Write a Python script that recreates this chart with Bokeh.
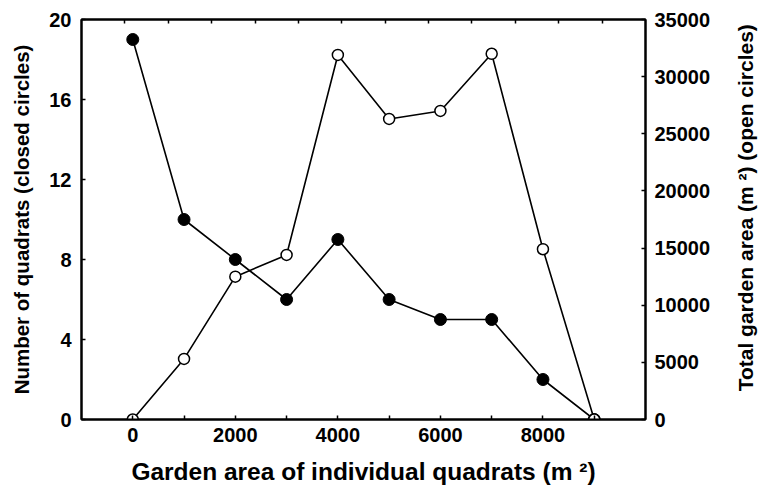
import math
from bokeh.plotting import figure
from bokeh.models import Range1d, LinearAxis, FixedTicker
from bokeh.layouts import row
from bokeh.core.properties import value
from bokeh.embed import file_html
from bokeh.resources import INLINE

# Data
garden_area = [0, 1000, 2000, 3000, 4000, 5000, 6000, 7000, 8000, 9000]
n_quadrats = [19, 10, 8, 6, 9, 6, 5, 5, 2, 0]
total_area = [0, 5300, 12500, 14400, 31900, 26300, 27000, 32000, 14900, 0]

x_major = [0, 2000, 4000, 6000, 8000]
x_minor = [1000, 3000, 5000, 7000, 9000]
y_left_ticks = [0, 4, 8, 12, 16, 20]
y_right_ticks = [0, 5000, 10000, 15000, 20000, 25000, 30000, 35000]

x_title = "Garden area of individual quadrats (m \u00b2)"
y_left_title = "Number of quadrats (closed circles)"
y_right_title = "Total garden area (m \u00b2) (open circles)"

FONT = "Liberation Sans"

p = figure(width=734, height=493, output_backend="svg", toolbar_location=None,
           x_range=Range1d(-1000, 10000), y_range=Range1d(0, 20),
           x_axis_location=None, y_axis_location=None,
           min_border_left=81, min_border_right=89, min_border_top=19, min_border_bottom=74)
p.extra_y_ranges = {"right": Range1d(0, 35000)}
p.extra_x_ranges = {"top": Range1d(0, 13)}
p.grid.visible = False
p.outline_line_color = "black"
p.outline_line_width = 2
p.background_fill_color = "white"
p.border_fill_color = "white"


def style(ax, tick_size="20px", title_size="21px"):
    ax.axis_line_width = 2
    ax.axis_line_color = "black"
    ax.major_tick_in = 4
    ax.major_tick_out = 0
    ax.minor_tick_in = 4
    ax.minor_tick_out = 0
    ax.major_tick_line_width = 1.5
    ax.minor_tick_line_width = 1.5
    ax.major_label_text_font = FONT
    ax.major_label_text_font_style = "bold"
    ax.major_label_text_font_size = tick_size
    ax.major_label_text_color = "black"
    ax.axis_label_text_font = FONT
    ax.axis_label_text_font_style = "bold"
    ax.axis_label_text_font_size = title_size
    ax.axis_label_text_color = "black"


xb = LinearAxis(ticker=FixedTicker(ticks=x_major, minor_ticks=x_minor), axis_label=x_title)
style(xb, title_size="24.5px")
xb.major_label_standoff = 8
xb.axis_label_standoff = 13
p.add_layout(xb, "below")

xt = LinearAxis(x_range_name="top", ticker=FixedTicker(ticks=list(range(1, 13))))
style(xt)
xt.major_label_text_font_size = "0px"
xt.major_label_text_alpha = 0
p.add_layout(xt, "above")

yl = LinearAxis(ticker=FixedTicker(ticks=y_left_ticks), axis_label=y_left_title)
style(yl, title_size="20.5px")
yl.major_label_standoff = 10
yl.axis_label_standoff = 13
p.add_layout(yl, "left")

yr = LinearAxis(y_range_name="right", ticker=FixedTicker(ticks=y_right_ticks))
style(yr)
yr.major_label_standoff = 9
p.add_layout(yr, "right")

# Closed circles: number of quadrats
p.line(garden_area, n_quadrats, line_color="black", line_width=1.6)
p.scatter(garden_area, n_quadrats, size=12, fill_color="black", line_color="black")

# Open circles: total garden area
p.line(garden_area, total_area, line_color="black", line_width=1.6, y_range_name="right")
p.scatter(garden_area, total_area, size=11, fill_color="white", line_color="black",
          line_width=1.5, y_range_name="right")

# Narrow strip holding the right-hand title, which reads bottom-to-top
t = figure(width=30, height=493, output_backend="svg", toolbar_location=None,
           x_range=Range1d(0, 30), y_range=Range1d(0, 493),
           x_axis_location=None, y_axis_location=None,
           min_border=0, min_border_left=0, min_border_right=0,
           min_border_top=0, min_border_bottom=0)
t.grid.visible = False
t.outline_line_color = None
t.background_fill_color = "white"
t.border_fill_color = "white"
t.text(x=[11], y=[261], text=[y_right_title], angle=math.pi / 2,
       text_align="center", text_baseline="middle",
       text_font=value(FONT), text_font_style="bold",
       text_font_size=value("21px"), text_color="black")

layout = row(p, t, spacing=0)
open("out.html", "w").write(file_html(layout, INLINE))
